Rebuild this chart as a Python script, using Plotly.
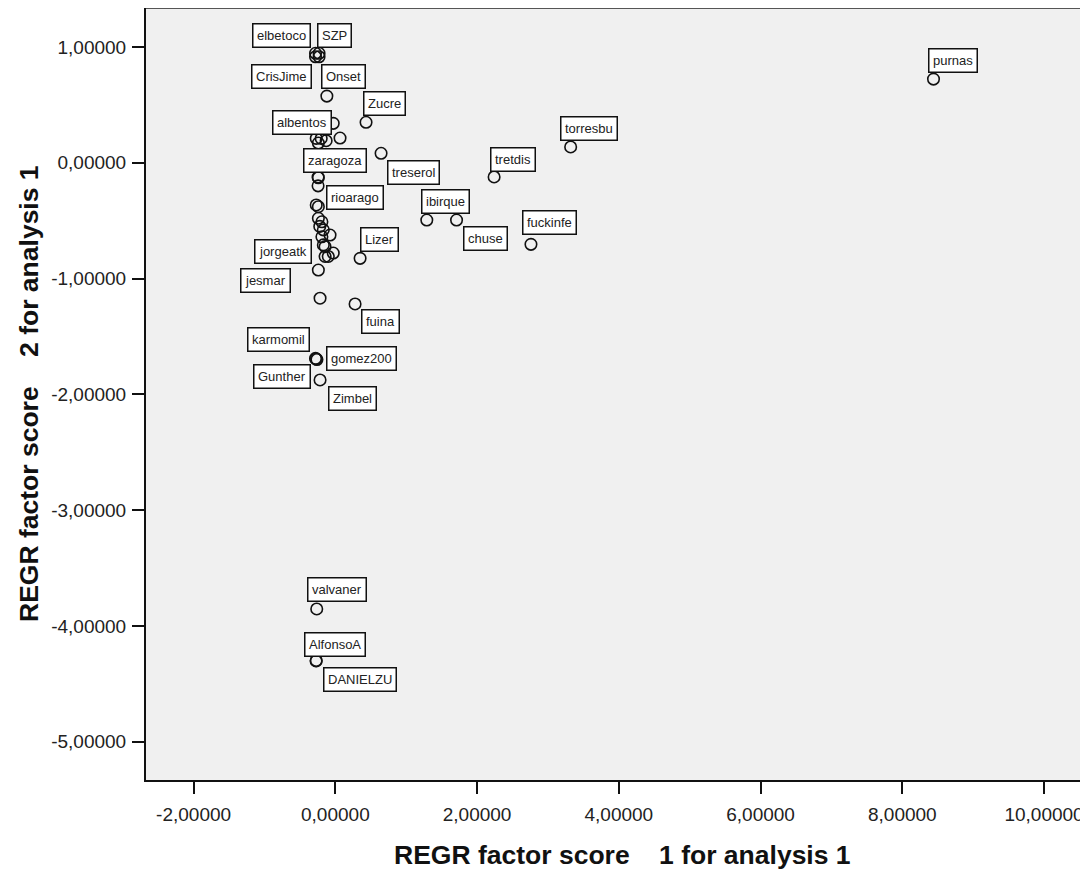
import plotly.graph_objects as go

# ---- data ----
names = ["purnas", "torresbu", "tretdis", "fuckinfe", "ibirque", "chuse", "treserol",
         "Lizer", "fuina", "Zucre", "elbetoco", "SZP", "CrisJime", "Onset", "albentos",
         "zaragoza", "rioarago", "jorgeatk", "jesmar", "karmomil", "gomez200", "Gunther",
         "Zimbel", "valvaner", "AlfonsoA", "DANIELZU"]
score1 = [8.44, 3.32, 2.24, 2.76, 1.29, 1.71, 0.645,
          0.349, 0.278, 0.433, -0.28, -0.23, -0.28, -0.23, 0.066,
          -0.244, -0.24, -0.24, -0.216, -0.28, -0.26, -0.272,
          -0.216, -0.263, -0.272, -0.27]
score2 = [0.722, 0.136, -0.123, -0.705, -0.495, -0.495, 0.081,
          -0.826, -1.22, 0.349, 0.945, 0.945, 0.915, 0.915, 0.213,
          -0.124, -0.13, -0.927, -1.17, -1.69, -1.70, -1.695,
          -1.876, -3.854, -4.303, -4.30]

unlabeled1 = [-0.12, -0.03, -0.27, -0.20, -0.13, -0.24, -0.27, -0.24, -0.244, -0.24,
              -0.19, -0.22, -0.17, -0.19, -0.075, -0.17, -0.145, -0.10, -0.03, -0.145]
unlabeled2 = [0.575, 0.34, 0.21, 0.21, 0.19, 0.17, -0.365, -0.38, -0.20, -0.48,
              -0.51, -0.55, -0.58, -0.64, -0.625, -0.71, -0.725, -0.81, -0.78, -0.81]

x_ticks = [-2, 0, 2, 4, 6, 8, 10]
x_ticktext = ["-2,00000", "0,00000", "2,00000", "4,00000", "6,00000", "8,00000", "10,00000"]
y_ticks = [1, 0, -1, -2, -3, -4, -5]
y_ticktext = ["1,00000", "0,00000", "-1,00000", "-2,00000", "-3,00000", "-4,00000", "-5,00000"]

x_title = "REGR factor score\u00a0\u00a0\u00a0\u00a01 for analysis 1"
y_title = "REGR factor score\u00a0\u00a0\u00a0\u00a02 for analysis 1"

# ---- label placement (style: anchor + pixel offset from the point) ----
placement = {
    "purnas": ("left", "bottom", -6, 6),
    "torresbu": ("left", "bottom", -11, 6),
    "tretdis": ("left", "bottom", -4, 5),
    "fuckinfe": ("left", "bottom", -9, 9),
    "ibirque": ("left", "bottom", -6, 6),
    "chuse": ("left", "top", 6, -6),
    "treserol": ("left", "top", 6, -7),
    "Lizer": ("left", "bottom", 0, 6),
    "fuina": ("left", "top", 6, -5),
    "Zucre": ("left", "bottom", -3, 6),
    "elbetoco": ("right", "bottom", -5, 5),
    "SZP": ("left", "bottom", -2, 5),
    "CrisJime": ("right", "top", -4, -7),
    "Onset": ("left", "top", 2, -7),
    "albentos": ("right", "bottom", -8, 3),
    "zaragoza": ("left", "bottom", -15, 4),
    "rioarago": ("left", "top", 8, -7),
    "jorgeatk": ("right", "bottom", -6, 6),
    "jesmar": ("right", "bottom", -29, 5),
    "karmomil": ("right", "bottom", -6, 6),
    "gomez200": ("left", "top", 9, 14),
    "Gunther": ("right", "top", -5, -5),
    "Zimbel": ("left", "top", 8, -6),
    "valvaner": ("left", "bottom", -10, 7),
    "AlfonsoA": ("left", "bottom", -12, 4),
    "DANIELZU": ("left", "top", 7, -6),
}

FONT = "Liberation Sans, Arial, sans-serif"

fig = go.Figure()
fig.add_trace(go.Scatter(
    x=score1 + unlabeled1, y=score2 + unlabeled2, mode="markers",
    marker=dict(symbol="circle-open", size=11.5, color="#111111", line=dict(width=1.6)),
    hoverinfo="skip", showlegend=False,
))

annotations = []
for n, xv, yv in zip(names, score1, score2):
    xa, ya, xs, ys = placement[n]
    annotations.append(dict(
        x=xv, y=yv, xref="x", yref="y", text=n, showarrow=False,
        xanchor=xa, yanchor=ya, xshift=xs, yshift=ys,
        font=dict(family=FONT, size=13, color="#222222"),
        bgcolor="white", bordercolor="#111111", borderwidth=1.5, borderpad=3.5,
    ))

annotations.append(dict(
    x=0.506, y=0, xref="paper", yref="paper", yshift=-75, text=x_title,
    showarrow=False, xanchor="center", yanchor="middle",
    font=dict(family=FONT, size=26.5, color="#111111", weight="bold"),
))
annotations.append(dict(
    x=0, y=0.5, xref="paper", yref="paper", xshift=-117, text=y_title,
    showarrow=False, xanchor="center", yanchor="middle", textangle=-90,
    font=dict(family=FONT, size=26.5, color="#111111", weight="bold"),
))

fig.update_layout(
    width=1080, height=861,
    margin=dict(l=138, r=0, t=0, b=89, pad=0),
    paper_bgcolor="white", plot_bgcolor="#F0F0F0",
    annotations=annotations,
    shapes=[dict(type="line", xref="paper", yref="paper", x0=0, x1=1, y0=1, y1=1,
                 line=dict(color="#555555", width=2))],
    xaxis=dict(range=[-2.672, 10.62], tickvals=x_ticks, ticktext=x_ticktext,
               showgrid=False, zeroline=False, showline=True, linecolor="#111111",
               linewidth=2, ticks="outside", ticklen=12, tickwidth=2, tickcolor="#111111",
               ticklabelstandoff=4,
               tickfont=dict(family=FONT, size=19, color="#222222"), fixedrange=True),
    yaxis=dict(range=[-5.331, 1.336], tickvals=y_ticks, ticktext=y_ticktext,
               showgrid=False, zeroline=False, showline=True, linecolor="#111111",
               linewidth=2, ticks="outside", ticklen=12, tickwidth=2, tickcolor="#111111",
               ticklabelstandoff=2,
               tickfont=dict(family=FONT, size=19, color="#222222"), fixedrange=True),
)

fig.write_html("out.html")
